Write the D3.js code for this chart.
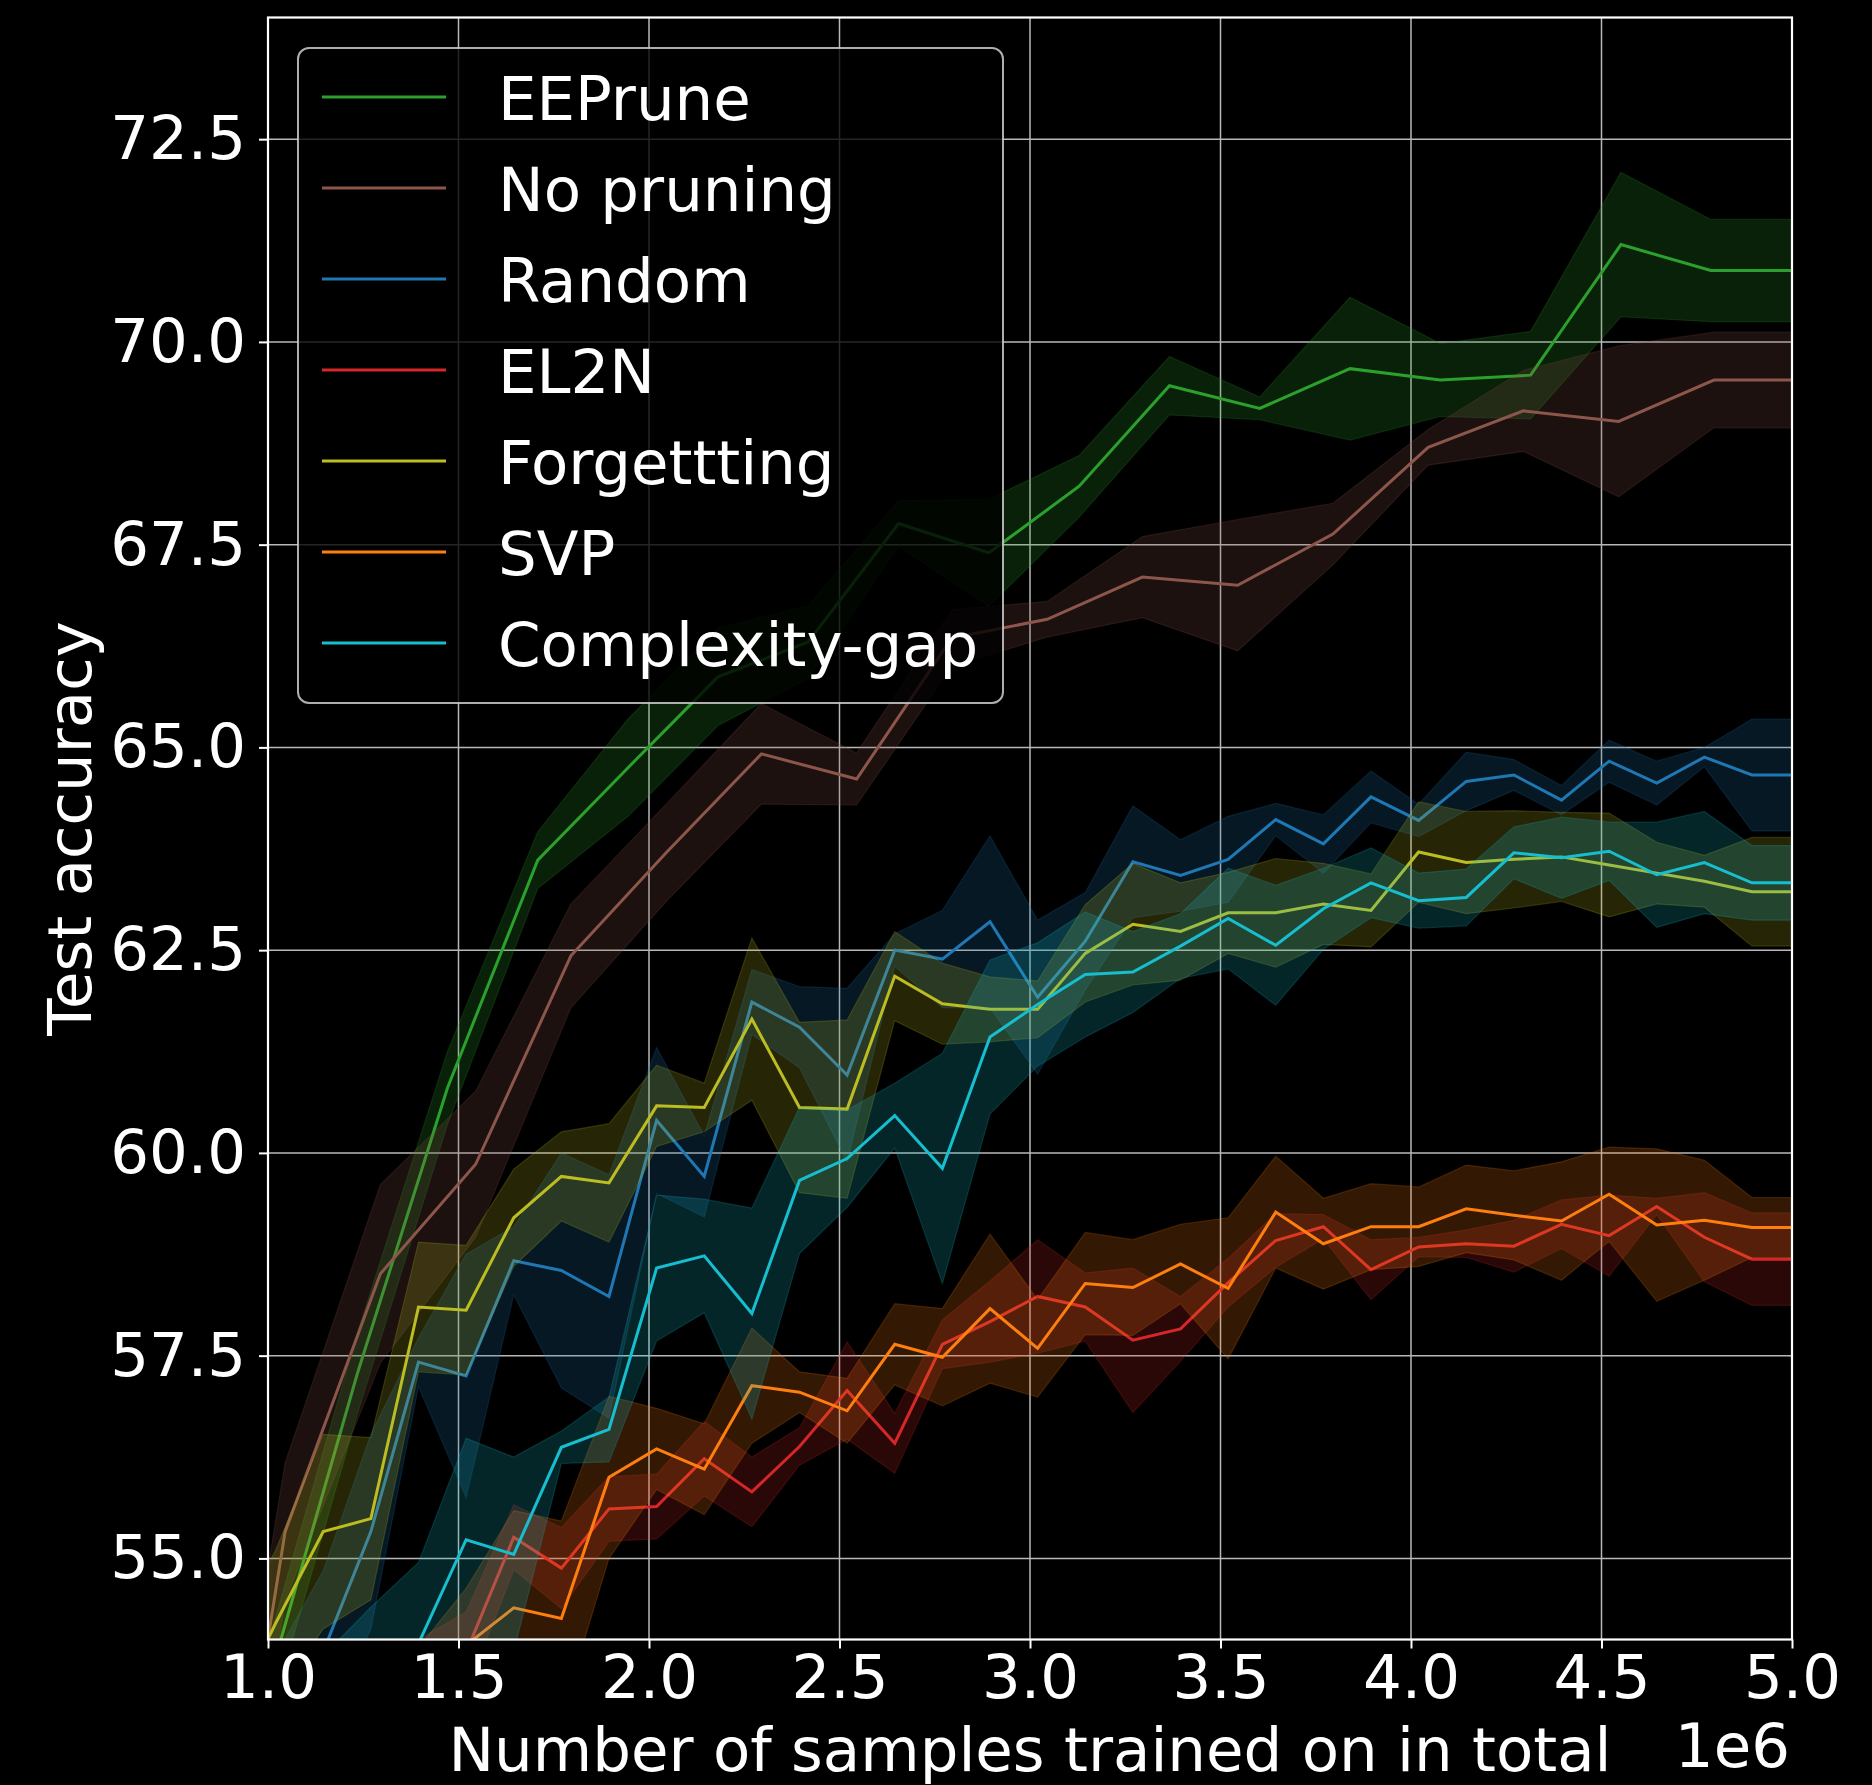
<!DOCTYPE html>
<html>
<head>
<meta charset="utf-8">
<script src="https://cdn.jsdelivr.net/npm/d3@7"></script>
<style>
  html, body { margin: 0; padding: 0; background: #000; }
  svg { display: block; }
</style>
</head>
<body>
<svg id="chart" width="1872" height="1785"></svg>
<script>
// Evaluation points (samples seen) for the pruned runs, EEPrune and the full-data run
const prunedSamples = [895000, 1020000, 1145000, 1270000, 1395000, 1520000, 1645000, 1770000, 1895000,
  2020000, 2145000, 2270000, 2395000, 2520000, 2645000, 2770000, 2895000, 3020000, 3145000, 3270000,
  3395000, 3520000, 3645000, 3770000, 3895000, 4020000, 4145000, 4270000, 4395000, 4520000, 4645000,
  4770000, 4895000, 5020000];
const eepruneSamples = [997000, 1234000, 1471000, 1708000, 1945000, 2181000, 2418000, 2655000, 2892000,
  3129000, 3366000, 3603000, 3840000, 4077000, 4314000, 4551000, 4787000, 5024000];
const fullSamples = [795000, 1045000, 1295000, 1545000, 1795000, 2045000, 2295000, 2545000, 2795000,
  3045000, 3295000, 3545000, 3795000, 4045000, 4295000, 4545000, 4795000, 5045000];

// Mean test accuracy and standard deviation per method
const eepruneMean = [53.4, 57.27, 60.8, 63.61, 64.75, 65.87, 66.3, 67.76, 67.40, 68.22, 69.46, 69.18, 69.67, 69.53, 69.59, 71.20, 70.88, 70.88];
const eepruneStd  = [0.5, 0.5, 0.45, 0.35, 0.6, 0.6, 0.45, 0.28, 0.66, 0.38, 0.36, 0.14, 0.88, 0.45, 0.54, 0.89, 0.63, 0.63];

const noPruningMean = [48.0, 55.33, 58.51, 59.86, 62.43, 63.7, 64.92, 64.61, 66.35, 66.58, 67.10, 67.0, 67.63, 68.70, 69.15, 69.02, 69.53, 69.53];
const noPruningStd  = [1.0, 0.85, 1.1, 0.9, 0.64, 0.6, 0.62, 0.32, 0.35, 0.22, 0.5, 0.81, 0.38, 0.22, 0.5, 0.93, 0.59, 0.59];

const randomMean = [51.5, 52.8, 53.85, 55.33, 57.42, 57.25, 58.67, 58.55, 58.23, 60.40, 59.71, 61.86, 61.55, 60.96, 62.50, 62.39, 62.85,
  61.92, 62.61, 63.59, 63.42, 63.62, 64.11, 63.81, 64.39, 64.10, 64.58, 64.66, 64.35, 64.83, 64.56, 64.88, 64.66, 64.66];
const randomStd  = [1.0, 1.0, 1.0, 1.2, 0.3, 1.5, 0.42, 1.45, 1.5, 0.9, 0.5, 0.4, 0.5, 1.07, 0.2, 0.6, 1.06,
  0.95, 0.6, 0.69, 0.44, 0.53, 0.2, 0.36, 0.32, 0.2, 0.36, 0.19, 0.18, 0.26, 0.27, 0.12, 0.69, 0.69];

const el2nMean = [51.5, 52.3, 52.8, 53.2, 53.5, 53.84, 55.26, 54.88, 55.61, 55.64, 56.23, 55.82, 56.38, 57.07, 56.42, 57.64, 57.92,
  58.23, 58.10, 57.69, 57.83, 58.40, 58.92, 59.09, 58.56, 58.84, 58.88, 58.85, 59.12, 58.98, 59.34, 58.96, 58.69, 58.69];
const el2nStd  = [0.5, 0.5, 0.5, 0.5, 0.5, 0.5, 0.4, 0.5, 0.4, 0.4, 0.46, 0.43, 0.23, 0.6, 0.37, 0.3, 0.5,
  0.7, 0.42, 0.89, 0.4, 0.3, 0.33, 0.15, 0.37, 0.12, 0.17, 0.32, 0.3, 0.5, 0.1, 0.55, 0.57, 0.57];

const forgettingMean = [53.0, 54.2, 55.33, 55.49, 58.10, 58.06, 59.20, 59.71, 59.63, 60.58, 60.56, 61.65, 60.56, 60.54, 62.18, 61.84, 61.77,
  61.77, 62.46, 62.82, 62.73, 62.96, 62.96, 63.07, 62.99, 63.71, 63.58, 63.62, 63.65, 63.55, 63.45, 63.35, 63.22, 63.22];
const forgettingStd  = [1.0, 0.9, 1.2, 1.0, 0.8, 0.8, 0.6, 0.55, 0.73, 0.5, 0.3, 1.0, 1.05, 1.1, 0.55, 0.5, 0.4,
  0.35, 0.6, 0.75, 0.6, 0.5, 0.67, 0.5, 0.45, 0.62, 0.63, 0.6, 0.55, 0.64, 0.38, 0.32, 0.67, 0.67];

const svpMean = [50.5, 51.3, 52.0, 52.7, 53.3, 53.93, 54.39, 54.26, 56.00, 56.35, 56.10, 57.13, 57.05, 56.82, 57.64, 57.48, 58.08,
  57.59, 58.39, 58.34, 58.63, 58.33, 59.27, 58.88, 59.09, 59.09, 59.31, 59.23, 59.16, 59.49, 59.11, 59.17, 59.08, 59.08];
const svpStd  = [0.6, 0.6, 0.6, 0.6, 0.6, 0.7, 1.2, 1.2, 1.0, 0.5, 0.56, 0.71, 0.25, 0.4, 0.5, 0.6, 0.92,
  0.6, 0.63, 0.59, 0.49, 0.87, 0.69, 0.56, 0.53, 0.49, 0.54, 0.55, 0.73, 0.58, 0.94, 0.74, 0.37, 0.37];

const complexityGapMean = [51.0, 52.0, 52.8, 53.4, 53.95, 55.23, 55.05, 56.37, 56.59, 58.58, 58.73, 58.02, 59.66, 59.93, 60.46, 59.81, 61.43,
  61.83, 62.20, 62.23, 62.55, 62.89, 62.56, 63.01, 63.33, 63.11, 63.15, 63.70, 63.64, 63.72, 63.43, 63.58, 63.33, 63.33];
const complexityGapStd  = [1.0, 1.0, 1.0, 1.0, 1.0, 1.25, 1.2, 0.2, 0.4, 0.9, 0.7, 1.3, 0.9, 0.6, 0.4, 1.42, 0.95,
  0.76, 0.77, 0.5, 0.4, 0.62, 0.74, 0.5, 0.43, 0.34, 0.35, 0.32, 0.5, 0.36, 0.65, 0.63, 0.46, 0.46];

const methodNames = ["EEPrune", "No pruning", "Random", "EL2N", "Forgettting", "SVP", "Complexity-gap"];
const methodColors = ["#2ca02c", "#8c564b", "#1f77b4", "#d62728", "#bcbd22", "#ff7f0e", "#17becf"];

const xTicks = [1e6, 1.5e6, 2e6, 2.5e6, 3e6, 3.5e6, 4e6, 4.5e6, 5e6];
const yTicks = [55, 57.5, 60, 62.5, 65, 67.5, 70, 72.5];

// Bundle each method's arrays for drawing
const runs = [
  { xs: eepruneSamples, mean: eepruneMean, std: eepruneStd },
  { xs: fullSamples, mean: noPruningMean, std: noPruningStd },
  { xs: prunedSamples, mean: randomMean, std: randomStd },
  { xs: prunedSamples, mean: el2nMean, std: el2nStd },
  { xs: prunedSamples, mean: forgettingMean, std: forgettingStd },
  { xs: prunedSamples, mean: svpMean, std: svpStd },
  { xs: prunedSamples, mean: complexityGapMean, std: complexityGapStd }
].map((r, i) => ({
  name: methodNames[i],
  color: methodColors[i],
  points: r.xs.map((s, j) => ({ s, m: r.mean[j], sd: r.std[j] }))
}));

const FONT = '"DejaVu Sans", "Liberation Sans", sans-serif';
const FS = 61;
const LW = 3;

const plotLeft = 268, plotRight = 1792, plotTop = 17.5, plotBottom = 1639.5;
const svg = d3.select("#chart");
svg.append("rect").attr("width", 1872).attr("height", 1785).attr("fill", "#000");

const x = d3.scaleLinear().domain([1e6, 5e6]).range([plotLeft, plotRight]);
const y = d3.scaleLinear().domain([54, 74]).range([plotBottom, plotTop]);

svg.append("defs").append("clipPath").attr("id", "plotClip")
  .append("rect").attr("x", plotLeft).attr("y", plotTop)
  .attr("width", plotRight - plotLeft).attr("height", plotBottom - plotTop);

// Grid
const grid = svg.append("g").attr("stroke", "#b8b8b8").attr("stroke-width", 1.5);
grid.selectAll("line.v").data(xTicks).join("line").attr("class", "v")
  .attr("x1", d => x(d)).attr("x2", d => x(d)).attr("y1", plotTop).attr("y2", plotBottom);
grid.selectAll("line.h").data(yTicks).join("line").attr("class", "h")
  .attr("x1", plotLeft).attr("x2", plotRight).attr("y1", d => y(d)).attr("y2", d => y(d));

// Bands and mean lines
const plot = svg.append("g").attr("clip-path", "url(#plotClip)");
const band = d3.area().x(d => x(d.s)).y0(d => y(d.m - d.sd)).y1(d => y(d.m + d.sd));
const line = d3.line().x(d => x(d.s)).y(d => y(d.m));

runs.forEach(r => {
  plot.append("path").datum(r.points)
    .attr("d", band)
    .attr("fill", r.color).attr("fill-opacity", 0.2)
    .attr("stroke", r.color).attr("stroke-opacity", 0.2).attr("stroke-width", 1.2);
  plot.append("path").datum(r.points)
    .attr("d", line)
    .attr("fill", "none").attr("stroke", r.color)
    .attr("stroke-width", LW).attr("stroke-linejoin", "miter");
});

// Axes
const xAxis = d3.axisBottom(x).tickValues(xTicks).tickFormat(d => d3.format(".1f")(d / 1e6))
  .tickSize(9).tickPadding(6);
const yAxis = d3.axisLeft(y).tickValues(yTicks).tickFormat(d3.format(".1f"))
  .tickSize(9).tickPadding(13);

const gx = svg.append("g").attr("transform", `translate(0,${plotBottom})`).call(xAxis);
const gy = svg.append("g").attr("transform", `translate(${plotLeft},0)`).call(yAxis);
[gx, gy].forEach(g => {
  g.select(".domain").remove();
  g.selectAll(".tick line").attr("stroke", "#fff").attr("stroke-width", 2);
  g.selectAll(".tick text").attr("fill", "#fff").style("font-family", FONT).style("font-size", FS + "px");
});

// Frame
svg.append("rect").attr("x", plotLeft).attr("y", plotTop)
  .attr("width", plotRight - plotLeft).attr("height", plotBottom - plotTop)
  .attr("fill", "none").attr("stroke", "#fff").attr("stroke-width", 2.2);

// Axis titles
svg.append("text").attr("x", (plotLeft + plotRight) / 2).attr("y", 1771)
  .attr("text-anchor", "middle").attr("fill", "#fff")
  .style("font-family", FONT).style("font-size", FS + "px")
  .text("Number of samples trained on in total");
svg.append("text").attr("x", 1790).attr("y", 1767)
  .attr("text-anchor", "end").attr("fill", "#fff")
  .style("font-family", FONT).style("font-size", FS + "px")
  .text("1e6");
svg.append("text").attr("transform", `translate(91,${(plotTop + plotBottom) / 2}) rotate(-90)`)
  .attr("text-anchor", "middle").attr("fill", "#fff")
  .style("font-family", FONT).style("font-size", FS + "px")
  .text("Test accuracy");

// Legend
const legend = svg.append("g");
legend.append("rect").attr("x", 298).attr("y", 48).attr("width", 705).attr("height", 655)
  .attr("rx", 11).attr("ry", 11)
  .attr("fill", "#000").attr("fill-opacity", 0.8)
  .attr("stroke", "#cccccc").attr("stroke-opacity", 0.85).attr("stroke-width", 2);
const rowY0 = 97, rowStep = 91;
runs.forEach((r, i) => {
  const ly = rowY0 + i * rowStep;
  legend.append("line").attr("x1", 322).attr("x2", 446).attr("y1", ly).attr("y2", ly)
    .attr("stroke", r.color).attr("stroke-width", LW);
  legend.append("text").attr("x", 498).attr("y", ly + 23).attr("fill", "#fff")
    .style("font-family", FONT).style("font-size", FS + "px")
    .text(r.name);
});
</script>
</body>
</html>
